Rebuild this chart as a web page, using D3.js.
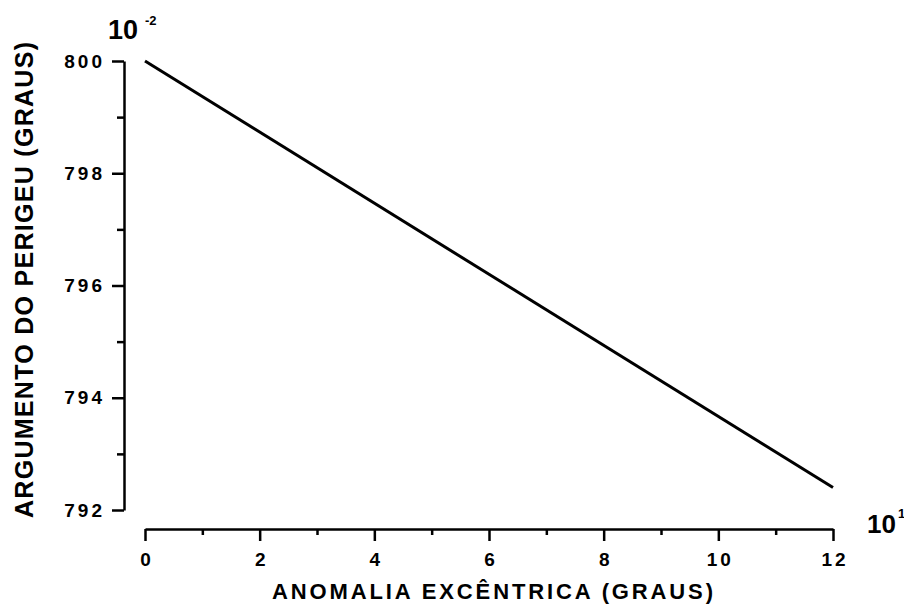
<!DOCTYPE html>
<meta charset="utf-8">
<style>
body { margin: 0; background: #fff; }
.axis path, .axis line { stroke: #000; stroke-width: 2.5px; }
.axis text { font-family: "Liberation Sans", Arial, sans-serif; font-weight: bold; font-size: 19px; letter-spacing: 3px; fill: #000; }
.title { font-family: "Liberation Sans", Arial, sans-serif; font-weight: bold; fill: #000; }
.line { fill: none; stroke: #000; stroke-width: 3px; }
</style>
<body>
<script src="https://d3js.org/d3.v7.min.js"></script>
<script>
// data (x in units of 10^1, y in units of 10^-2)
var anomalia = [0, 6, 12];
var argumento = [800, 796.2, 792.4];
var xTicks = [0, 2, 4, 6, 8, 10, 12];
var xMinor = [1, 3, 5, 7, 9, 11];
var yTicks = [792, 794, 796, 798, 800];
var yMinor = [793, 795, 797, 799];

var svg = d3.select("body").append("svg")
    .attr("width", 904)
    .attr("height", 608);

// set the ranges
var x = d3.scaleLinear().domain([0, 12]).range([145, 833]);
var y = d3.scaleLinear().domain([792, 800]).range([510, 61]);

var data = anomalia.map(function(d, i) { return {x: d, y: argumento[i]}; });

var valueline = d3.line()
    .x(function(d) { return x(d.x); })
    .y(function(d) { return y(d.y); });

// x axis (sits below, detached from y axis)
svg.append("g")
    .attr("class", "axis")
    .attr("transform", "translate(0,529)")
    .call(d3.axisBottom(x).tickValues(xMinor).tickSize(6).tickFormat(""))
    .select(".domain").remove();
var xAxis = svg.append("g")
    .attr("class", "axis")
    .attr("transform", "translate(0,529)")
    .call(d3.axisBottom(x).tickValues(xTicks).tickSize(12).tickSizeOuter(0).tickPadding(12).tickFormat(d3.format("d")));
xAxis.selectAll("text").attr("dx", "1.5");

// y axis
svg.append("g")
    .attr("class", "axis")
    .attr("transform", "translate(124,0)")
    .call(d3.axisLeft(y).tickValues(yMinor).tickSize(7).tickFormat(""))
    .select(".domain").remove();
svg.append("g")
    .attr("class", "axis")
    .attr("transform", "translate(124,0)")
    .call(d3.axisLeft(y).tickValues(yTicks).tickSize(12).tickSizeOuter(0).tickPadding(7).tickFormat(d3.format("d")));

// the line
svg.append("path")
    .datum(data)
    .attr("class", "line")
    .attr("d", valueline);

// axis titles
svg.append("text")
    .attr("class", "title")
    .attr("x", 272)
    .attr("y", 599)
    .attr("textLength", 441)
    .attr("lengthAdjust", "spacing")
    .style("font-size", "22px")
    .text("ANOMALIA EXCÊNTRICA (GRAUS)");

svg.append("text")
    .attr("class", "title")
    .attr("transform", "translate(33,518) rotate(-90)")
    .attr("textLength", 476)
    .attr("lengthAdjust", "spacing")
    .style("font-size", "25px")
    .text("ARGUMENTO DO PERIGEU (GRAUS)");

// scale factors
svg.append("text")
    .attr("class", "title")
    .attr("x", 108).attr("y", 39)
    .style("font-size", "27px")
    .text("10");
svg.append("text")
    .attr("class", "title")
    .attr("x", 145).attr("y", 25)
    .style("font-size", "13px")
    .text("-2");

svg.append("text")
    .attr("class", "title")
    .attr("x", 867).attr("y", 533)
    .style("font-size", "26px")
    .text("10");
svg.append("text")
    .attr("class", "title")
    .attr("x", 898).attr("y", 518)
    .style("font-size", "13px")
    .text("1");
</script>
</body>
